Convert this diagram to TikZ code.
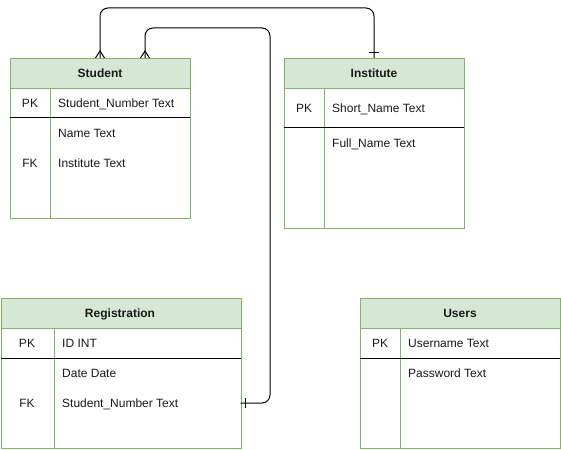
\documentclass[tikz,border=0pt]{standalone}
\usepackage{fontspec}
\setmainfont{Liberation Sans}
\definecolor{tgreen}{HTML}{82B366}
\definecolor{hgreen}{HTML}{D5E8D4}
\definecolor{tcol}{HTML}{1A1A1A}
\begin{document}
\begin{tikzpicture}[x=1pt,y=-1pt,
  font=\fontsize{12}{14}\selectfont,
  tbl/.style={draw=tgreen, line width=1pt, anchor=north west, inner sep=0pt, fill=white},
  hdr/.style={tbl, fill=hgreen},
  hdrtxt/.style={inner sep=0pt, text height=8.6pt, text depth=0pt, anchor=center, font=\fontsize{12}{14}\selectfont\bfseries, text=tcol},
  fld/.style={inner sep=0pt, text height=8.6pt, text depth=0pt, anchor=west, text=tcol},
  keytxt/.style={inner sep=0pt, text height=8.6pt, text depth=0pt, anchor=center, text=tcol},
  sep/.style={draw=black, line width=1pt},
  dvd/.style={draw=tgreen, line width=1pt},
  conn/.style={draw=black, line width=1pt, rounded corners=8pt},
  ermark/.style={draw=black, line width=1pt},
]
\useasboundingbox (0,0) rectangle (561,449);

% ---------- Student ----------
\node[tbl, minimum width=180pt, minimum height=130pt] (stuB) at (10,88) {};
\node[hdr, minimum width=180pt, minimum height=30pt] (stuH) at (10,58) {};
\node[hdrtxt] (stuT) at (100,73) {Student};
\draw[dvd] (50,88) -- (50,218);
\draw[sep] (10,118) -- (190,118);
\node[keytxt] (stuPK) at (30,103) {PK};
\node[fld] (stuF1) at (58,103) {Student\_Number Text};
\node[fld] (stuF2) at (58,133) {Name Text};
\node[keytxt] (stuFK) at (30,163) {FK};
\node[fld] (stuF3) at (58,163) {Institute Text};

% ---------- Institute ----------
\node[tbl, minimum width=180pt, minimum height=140pt] (insB) at (284,88) {};
\node[hdr, minimum width=180pt, minimum height=30pt] (insH) at (284,58) {};
\node[hdrtxt] (insT) at (374,73) {Institute};
\draw[dvd] (324,88) -- (324,228);
\draw[sep] (284,128) -- (464,128);
\node[keytxt] (insPK) at (304,108) {PK};
\node[fld] (insF1) at (332,108) {Short\_Name Text};
\node[fld] (insF2) at (332,143) {Full\_Name Text};

% ---------- Registration ----------
\node[tbl, minimum width=240pt, minimum height=120pt] (regB) at (0.5,328) {};
\node[hdr, minimum width=240pt, minimum height=30pt] (regH) at (0.5,298) {};
\node[hdrtxt] (regT) at (120,313) {Registration};
\draw[dvd] (54,328) -- (54,448);
\draw[sep] (0.5,358) -- (240.5,358);
\node[keytxt] (regPK) at (27,343) {PK};
\node[fld] (regF1) at (62,343) {ID INT};
\node[fld] (regF2) at (62,373) {Date Date};
\node[keytxt] (regFK) at (27,403) {FK};
\node[fld] (regF3) at (62,403) {Student\_Number Text};

% ---------- Users ----------
\node[tbl, minimum width=200pt, minimum height=120pt] (usrB) at (360,328) {};
\node[hdr, minimum width=200pt, minimum height=30pt] (usrH) at (360,298) {};
\node[hdrtxt] (usrT) at (460,313) {Users};
\draw[dvd] (400,328) -- (400,448);
\draw[sep] (360,358) -- (560,358);
\node[keytxt] (usrPK) at (380,343) {PK};
\node[fld] (usrF1) at (408,343) {Username Text};
\node[fld] (usrF2) at (408,373) {Password Text};

% ---------- Connectors ----------
\coordinate (c1s) at (100,58);
\coordinate (c1e) at (374,58);
\coordinate (c2s) at (145,58);
\coordinate (c2e) at (240.5,403);

\draw[conn] (c1s) -- (100,8) -- (374,8) -- (c1e);
\draw[conn] (c2s) -- (145,28) -- (270,28) -- (270,403) -- (c2e);

% crow's feet (many) at Student
\draw[ermark] (95.5,58) -- (100,51) -- (104.5,58);
\draw[ermark] (140.5,58) -- (145,51) -- (149.5,58);
% one marks
\draw[ermark] (369,53) -- (379,53);
\draw[ermark] (245.5,398) -- (245.5,408);
\end{tikzpicture}
\end{document}
